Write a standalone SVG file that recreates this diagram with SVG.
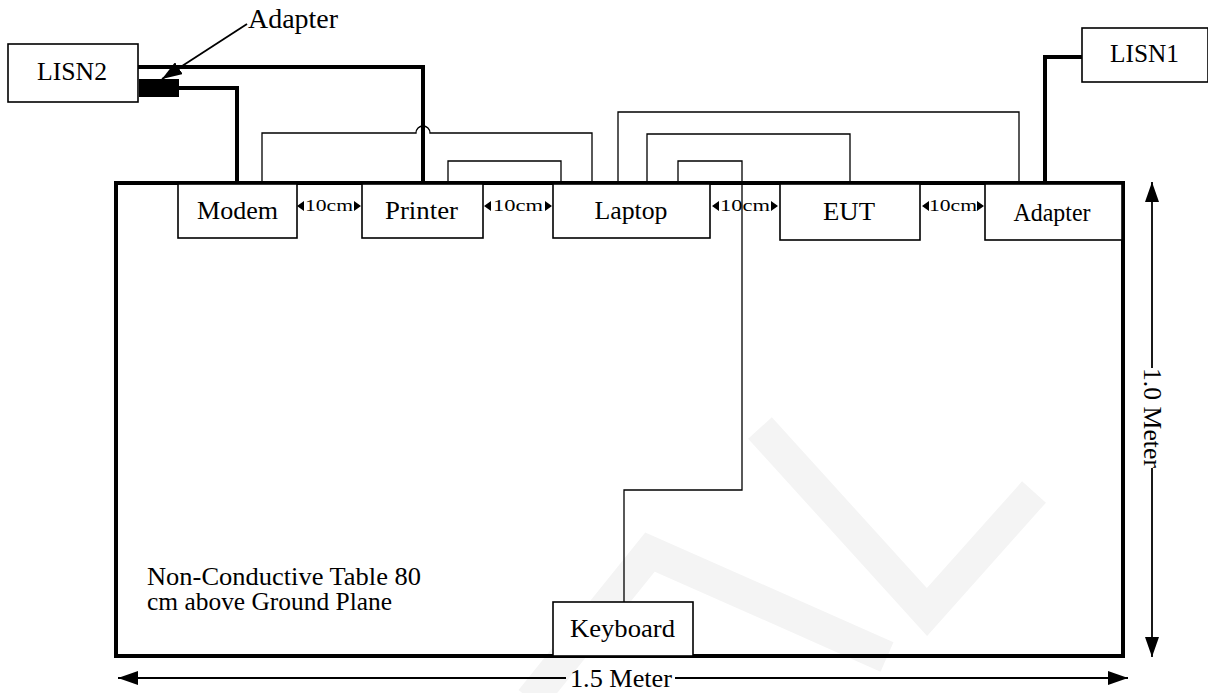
<svg xmlns="http://www.w3.org/2000/svg" width="1208" height="693" viewBox="0 0 1208 693">
<defs>
<style>
.box{fill:#fff;stroke:#000;stroke-width:1.6}
.t{font-family:"Liberation Serif","Times New Roman",serif;font-size:25px;fill:#000;text-anchor:middle}
.s{font-family:"Liberation Serif","Times New Roman",serif;font-size:17px;fill:#000;text-anchor:middle}
.thick{fill:none;stroke:#000;stroke-width:4}
.thin{fill:none;stroke:#000;stroke-width:1.3}
.dim{fill:none;stroke:#000;stroke-width:1.8}
.wm{fill:none;stroke:#f4f4f4;stroke-width:32;stroke-linejoin:miter}
</style>
<marker id="ah" viewBox="0 0 20 14" refX="20" refY="7" markerWidth="20" markerHeight="14" markerUnits="userSpaceOnUse" orient="auto">
<path d="M0,0 L20,7 L0,14 Z" fill="#000"/>
</marker>
</defs>
<rect width="1208" height="693" fill="#fff"/>
<g id="watermark">
<path class="wm" d="M531,700 L650,552 L887,657"/>
<path class="wm" d="M760,428 L927,612 L1034,492"/>
</g>
<g id="table">
<rect class="thick" x="116" y="183" width="1007" height="473"/>
<text class="t" x="147" y="585" style="text-anchor:start" textLength="274" lengthAdjust="spacingAndGlyphs">Non-Conductive Table 80</text>
<text class="t" x="147" y="610" style="text-anchor:start" textLength="245" lengthAdjust="spacingAndGlyphs">cm above Ground Plane</text>
</g>
<g id="connectors">
<path class="thick" d="M138,67 H423 V183"/>
<path class="thick" d="M179,88 H237 V183"/>
<path class="thick" d="M1082,57 H1045 V183"/>
<path class="thin" d="M262,183 V133 H416 A7,7 0 0 1 430,133 H592 V183"/>
<path class="thin" d="M448,183 V161 H561 V183"/>
<path class="thin" d="M618,183 V112 H1019 V183"/>
<path class="thin" d="M647,183 V134 H850 V183"/>
<path class="thin" d="M678,183 V161 H742 V490 H624 V602"/>
<line x1="247" y1="24" x2="162" y2="79" stroke="#000" stroke-width="1.8" marker-end="url(#ah)"/>
</g>
<g id="lisn2">
<rect class="box" x="8" y="44" width="130" height="58"/>
<text class="t" x="72" y="80" textLength="70" lengthAdjust="spacingAndGlyphs">LISN2</text>
</g>
<g id="adapter-block">
<rect x="139" y="79" width="40" height="18" fill="#000"/>
<text class="t" x="293" y="28" style="font-size:27px" textLength="90" lengthAdjust="spacingAndGlyphs">Adapter</text>
</g>
<g id="lisn1">
<rect class="box" x="1082" y="28" width="126" height="54"/>
<text class="t" x="1144.5" y="62" textLength="69" lengthAdjust="spacingAndGlyphs">LISN1</text>
</g>
<g id="modem">
<rect class="box" x="178" y="184" width="119" height="54"/>
<text class="t" x="237.5" y="219" textLength="81" lengthAdjust="spacingAndGlyphs">Modem</text>
</g>
<g id="printer">
<rect class="box" x="362" y="184" width="121" height="54"/>
<text class="t" x="421.5" y="219" textLength="73" lengthAdjust="spacingAndGlyphs">Printer</text>
</g>
<g id="laptop">
<rect class="box" x="553" y="184" width="157" height="54"/>
<text class="t" x="631" y="219" textLength="73" lengthAdjust="spacingAndGlyphs">Laptop</text>
</g>
<g id="eut">
<rect class="box" x="780" y="184" width="140" height="56"/>
<text class="t" x="849" y="220" textLength="52" lengthAdjust="spacingAndGlyphs">EUT</text>
</g>
<g id="adapter">
<rect class="box" x="985" y="184" width="137" height="56"/>
<text class="t" x="1052" y="221" textLength="77" lengthAdjust="spacingAndGlyphs">Adapter</text>
</g>
<g id="keyboard">
<rect class="box" x="553" y="602" width="140" height="54"/>
<text class="t" x="622.5" y="637" textLength="105" lengthAdjust="spacingAndGlyphs">Keyboard</text>
</g>
<g id="spacing">
<g id="sp1">
<path d="M297,206 L304,201 L304,211 Z M361,206 L354,201 L354,211 Z"/>
<text class="s" x="329" y="211" textLength="48" lengthAdjust="spacingAndGlyphs">10cm</text>
</g>
<g id="sp2">
<path d="M484,206 L491,201 L491,211 Z M552,206 L545,201 L545,211 Z"/>
<text class="s" x="518" y="211" textLength="50" lengthAdjust="spacingAndGlyphs">10cm</text>
</g>
<g id="sp3">
<path d="M712,206 L719,201 L719,211 Z M778,206 L771,201 L771,211 Z"/>
<text class="s" x="745" y="211" textLength="50" lengthAdjust="spacingAndGlyphs">10cm</text>
</g>
<g id="sp4">
<path d="M922,206 L929,201 L929,211 Z M984,206 L977,201 L977,211 Z"/>
<text class="s" x="953" y="211" textLength="48" lengthAdjust="spacingAndGlyphs">10cm</text>
</g>
</g>
<g id="dimensions">
<line class="dim" x1="1152" y1="368" x2="1152" y2="182" marker-end="url(#ah)"/>
<line class="dim" x1="1152" y1="468" x2="1152" y2="657" marker-end="url(#ah)"/>
<text class="t" transform="translate(1144,418) rotate(90)" y="0" textLength="100" lengthAdjust="spacingAndGlyphs">1.0 Meter</text>
<line class="dim" x1="566" y1="678" x2="118" y2="678" marker-end="url(#ah)"/>
<line class="dim" x1="675" y1="678" x2="1128" y2="678" marker-end="url(#ah)"/>
<text class="t" x="621" y="687" textLength="102" lengthAdjust="spacingAndGlyphs">1.5 Meter</text>
</g>
</svg>
